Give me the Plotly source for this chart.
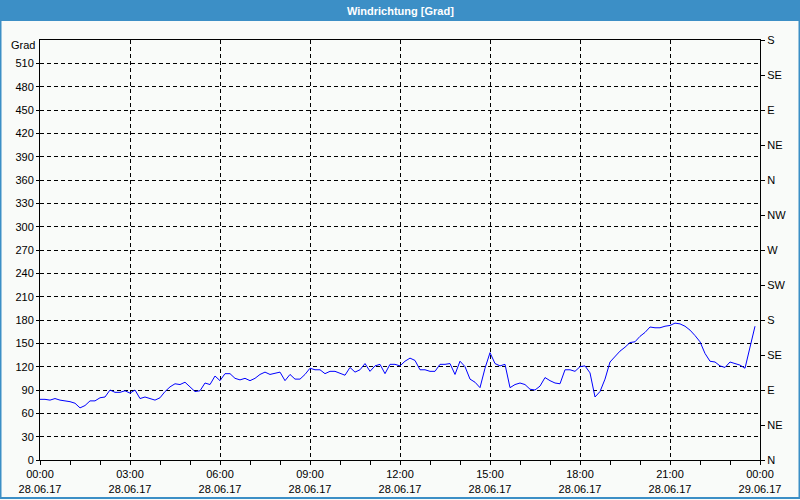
import pandas as pd
import plotly.graph_objects as go

# 10-minute readings, 28.06.17 00:00 .. 23:50
times = pd.date_range("2017-06-28 00:00", periods=144, freq="10min")
direction = [
    78, 78, 77, 79, 77, 76, 75, 73, 67, 70, 76, 76, 80, 81, 90, 87, 87, 89, 86, 90,
    79, 81, 79, 77, 80, 88, 94, 98, 97, 100, 94, 88, 89, 99, 97, 108,
    102, 111, 111, 105, 103, 105, 102, 105, 110, 113, 110, 112, 113, 102, 110, 104,
    104, 110, 118, 116, 116, 111, 114, 114, 112, 109, 119, 113, 116, 124, 114, 121,
    123, 111, 123, 123,
    121, 127, 131, 128, 116, 116, 114, 114, 123, 123, 124, 110, 127, 120, 104, 100,
    93, 118, 138, 124, 121, 123, 93, 97, 99, 97, 91, 90, 95, 106, 102, 99, 98, 116,
    116, 114,
    120, 121, 112, 81, 88, 104, 126, 133, 140, 145, 151, 152, 159, 164, 171, 170,
    170, 172, 173, 176, 175, 172, 167, 160, 152, 137, 127, 126, 121, 119, 126, 124,
    122, 118, 146, 172,
]

left_ticks = list(range(0, 540, 30))
right_ticks = list(range(0, 541, 45))
right_labels = ["N", "NE", "E", "SE", "S", "SW", "W", "NW", "N", "NE", "E", "SE", "S"]

BG = "#f9fbf9"
BLUE = "#3c8fc6"
FONT = "Liberation Sans"

fig = go.Figure()
fig.add_trace(go.Scatter(x=times, y=direction, mode="lines",
                         line=dict(color="#0000ff", width=1), showlegend=False))
fig.add_trace(go.Scatter(x=times, y=direction, mode="lines", yaxis="y2",
                         line=dict(color="rgba(0,0,0,0)", width=0),
                         hoverinfo="skip", showlegend=False))

fig.update_layout(
    width=800, height=500,
    margin=dict(l=40, r=40, t=40, b=40, autoexpand=False),
    paper_bgcolor=BG, plot_bgcolor=BG,
    font=dict(family=FONT, size=11, color="#000000"),
    xaxis=dict(
        type="date", automargin=False,
        range=["2017-06-28 00:00", "2017-06-29 00:00"],
        tick0="2017-06-28 00:00", dtick=3 * 3600 * 1000,
        tickformat="%H:%M<br>%d.%m.%y",
        ticks="outside", ticklen=4, tickcolor="#000",
        minor=dict(dtick=3600 * 1000, ticks="outside", ticklen=4, tickcolor="#000", showgrid=False),
        showline=True, linecolor="#000", linewidth=1, mirror=True,
        showgrid=True, gridcolor="#000", griddash="4px,3px", gridwidth=1,
        zeroline=False,
    ),
    yaxis=dict(
        range=[0, 540], tickvals=left_ticks, automargin=False,
        ticks="outside", ticklen=3, tickcolor="#000",
        showline=True, linecolor="#000", linewidth=1, mirror=True,
        showgrid=True, gridcolor="#000", griddash="4px,3px", gridwidth=1,
        zeroline=False,
    ),
    yaxis2=dict(
        range=[0, 540], overlaying="y", side="right", automargin=False,
        tickvals=right_ticks, ticktext=right_labels,
        ticks="outside", ticklen=4, tickcolor="#000",
        showline=True, linecolor="#000", linewidth=1,
        showgrid=False, zeroline=False,
    ),
)

def px_x(px):
    return (px - 40) / 720.0

def px_y(py):
    return (460 - py) / 420.0

fig.add_shape(type="rect", xref="paper", yref="paper",
              x0=px_x(0), x1=px_x(800), y0=px_y(21), y1=px_y(0),
              fillcolor=BLUE, line=dict(width=0), layer="above")
fig.add_shape(type="rect", xref="paper", yref="paper",
              x0=px_x(0.5), x1=px_x(799.5), y0=px_y(498), y1=px_y(0),
              fillcolor="rgba(0,0,0,0)", line=dict(color=BLUE, width=2), layer="above")

fig.add_annotation(text="<b>Windrichtung [Grad]</b>", xref="paper", yref="paper",
                   x=0.5, y=px_y(10.5), xanchor="center", yanchor="middle",
                   showarrow=False, font=dict(color="white", size=11, family=FONT))
fig.add_annotation(text="Grad", xref="paper", yref="paper",
                   x=px_x(37), y=px_y(45), xanchor="right", yanchor="middle",
                   showarrow=False, font=dict(size=11, family=FONT))

fig.write_html(
    "out.html",
    config={"displayModeBar": False},
    post_script="document.body.style.margin='0';document.body.style.overflow='hidden';"
                "document.body.style.background='" + BG + "';",
)
